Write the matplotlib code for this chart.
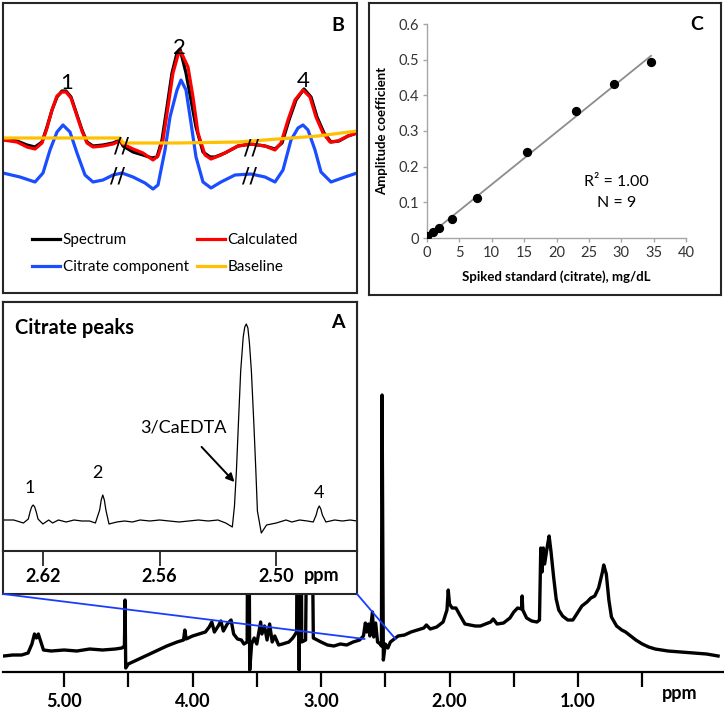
import numpy as np
import matplotlib
matplotlib.use("Agg")
import matplotlib.pyplot as plt
from matplotlib.patches import ConnectionPatch

plt.rcParams["font.family"] = ["Lato", "DejaVu Sans"]

# ==============================
# DATA
# ==============================
# A, full 1H spectrum (ppm, intensity)
main_ppm = [5.47, 5.40, 5.33, 5.28, 5.25, 5.23, 5.215, 5.20, 5.18, 5.16, 5.10, 5.00, 4.90, 4.80,
            4.70, 4.60, 4.55, 4.53, 4.525, 4.52, 4.50, 4.45, 4.40, 4.30, 4.20, 4.12, 4.07, 4.06,
            4.05, 4.00, 3.95, 3.90, 3.87, 3.85, 3.83, 3.80, 3.78, 3.76, 3.73, 3.70, 3.68, 3.65,
            3.62, 3.60, 3.575, 3.565, 3.555, 3.54, 3.52, 3.50, 3.47, 3.46, 3.44, 3.42, 3.40, 3.38,
            3.36, 3.33, 3.30, 3.25, 3.22, 3.19, 3.18, 3.17, 3.16, 3.15, 3.12, 3.10, 3.08, 3.06,
            3.00, 2.95, 2.90, 2.85, 2.80, 2.75, 2.70, 2.67, 2.655, 2.645, 2.63, 2.62, 2.60, 2.59,
            2.575, 2.56, 2.54, 2.53, 2.525, 2.515, 2.50, 2.48, 2.46, 2.43, 2.40, 2.35, 2.30, 2.25,
            2.20, 2.18, 2.15, 2.10, 2.05, 2.02, 2.01, 2.00, 1.98, 1.95, 1.92, 1.88, 1.84, 1.80,
            1.76, 1.72, 1.68, 1.66, 1.63, 1.58, 1.53, 1.50, 1.47, 1.44, 1.435, 1.43, 1.40, 1.36,
            1.32, 1.30, 1.29, 1.28, 1.27, 1.26, 1.24, 1.225, 1.21, 1.19, 1.17, 1.15, 1.12, 1.08,
            1.04, 1.02, 1.00, 0.97, 0.93, 0.90, 0.87, 0.84, 0.81, 0.80, 0.78, 0.76, 0.74, 0.70,
            0.66, 0.63, 0.60, 0.55, 0.50, 0.45, 0.40, 0.30, 0.20, 0.10, 0.00, -0.09]
main_int = [16, 17, 17, 19, 28, 38, 34, 38, 30, 22, 21, 22, 21, 23,
            22, 23, 24, 26, 72, 4, 8, 11, 14, 20, 26, 30, 32, 42,
            33, 36, 38, 40, 45, 50, 40, 46, 51, 41, 48, 52, 38, 33,
            32, 28, 30, 300, 2, 28, 34, 28, 50, 38, 46, 32, 48, 30,
            36, 27, 28, 30, 34, 40, 300, 2, 300, 30, 32, 300, 300, 34,
            30, 27, 26, 28, 27, 30, 32, 36, 49, 40, 48, 36, 60, 35,
            49, 30, 28, 26, 277, 12, 28, 24, 30, 33, 36, 37, 40, 42,
            44, 47, 43, 45, 50, 62, 82, 68, 64, 64, 57, 48, 47, 46,
            46, 48, 50, 53, 48, 49, 54, 60, 64, 63, 76, 62, 54, 51,
            50, 52, 124, 100, 124, 108, 125, 136, 120, 95, 73, 62, 56, 52,
            52, 56, 60, 66, 70, 74, 76, 84, 100, 107, 98, 72, 55, 46,
            42, 40, 37, 32, 28, 25, 23, 21, 20, 19, 18, 16]
main_ticks = [5.0, 4.5, 4.0, 3.5, 3.0, 2.5, 2.0, 1.5, 1.0, 0.5]
main_labels = ["5.00", "", "4.00", "", "3.00", "", "2.00", "", "1.00", ""]

# A, citrate region inset
ins_ppm = [2.6405, 2.635, 2.630, 2.6275, 2.6266, 2.6258, 2.6250, 2.6242, 2.6234, 2.6225, 2.620,
           2.617, 2.615, 2.612, 2.608, 2.604, 2.600, 2.596, 2.593, 2.5908, 2.5900, 2.5892,
           2.5884, 2.5876, 2.586, 2.582, 2.578, 2.574, 2.570, 2.565, 2.560, 2.555, 2.550, 2.545,
           2.540, 2.535, 2.530, 2.526, 2.5226, 2.5215, 2.5205, 2.5195, 2.5183, 2.5170, 2.5162,
           2.5154, 2.5146, 2.5138, 2.5128, 2.5115, 2.5105, 2.5097, 2.5077, 2.505, 2.500, 2.495,
           2.492, 2.488, 2.484, 2.481, 2.4795, 2.4787, 2.4779, 2.4771, 2.4763, 2.4745, 2.470,
           2.466, 2.462, 2.4585]
ins_int = [31, 31, 28, 32, 39, 44, 46, 44, 39, 32, 27,
           31, 28, 31, 29, 31, 30, 30, 28, 41, 51, 56,
           51, 41, 27, 29, 30, 29, 31, 30, 31, 30, 29, 30,
           31, 30, 31, 28, 24, 45, 80, 126, 180, 214, 224,
           227, 223, 208, 180, 126, 80, 40, 18, 26, 28, 31,
           29, 31, 30, 29, 36, 42, 45, 42, 36, 29, 31,
           30, 31, 30]
ins_ticks = [2.62, 2.56, 2.50]
ins_labels = ["2.62", "2.56", "2.50"]

# B, fitted region (shift index, intensity)
b_spec_x = [0, 14, 24, 32, 39, 44, 49, 54, 59, 63, 68, 73, 79, 84, 90, 100, 110, 117, 120, 130,
            140, 149, 154, 159, 164, 169, 174, 177, 183, 188, 193, 200, 207, 212, 222, 235, 248,
            262, 272, 279, 286, 293, 301, 308, 314, 321, 328, 336, 345, 354]
b_spec_y = [61, 59, 55, 53, 58, 73, 90, 103, 109, 109, 103, 88, 70, 58, 54, 55, 57, 60, 54, 48,
            45, 42, 43, 60, 93, 127, 147, 151, 127, 100, 73, 48, 43, 43, 47, 54, 56,
            54, 51, 57, 80, 100, 111, 103, 83, 67, 58, 59, 64, 67]
b_calc_x = [0, 14, 24, 32, 39, 44, 49, 54, 59, 63, 68, 73, 79, 84, 90, 100, 110, 117, 120, 130,
            140, 150, 155, 160, 165, 170, 175, 178, 185, 190, 195, 202, 208, 218, 235, 248, 262,
            272, 278, 285, 292, 300, 307, 313, 320, 327, 335, 345, 354]
b_calc_y = [60, 58, 53, 51, 57, 72, 90, 104, 108, 108, 102, 87, 69, 57, 53, 54, 56, 59, 56, 51,
            47, 40, 44, 60, 93, 127, 145, 148, 133, 103, 67, 45, 41, 45, 54, 56, 54,
            50, 57, 80, 100, 110, 103, 83, 67, 58, 59, 64, 67]
b_cit_x = [0, 17, 32, 40, 47, 54, 60, 67, 74, 82, 90, 100, 110, 119, 130, 142, 150, 155, 162,
           167, 174, 178, 183, 188, 193, 200, 208, 218, 232, 248, 262, 272, 280, 288, 295, 300,
           305, 312, 318, 328, 342, 354]
b_cit_y = [27, 23, 18, 27, 50, 68, 75, 68, 47, 25, 18, 20, 25, 27, 23, 17, 11, 15, 50,
           83, 110, 120, 110, 77, 43, 18, 12, 18, 25, 26, 23, 18, 30, 60, 72, 75,
           70, 50, 28, 18, 23, 27]
b_base_x = [0, 117, 120, 175, 235, 275, 315, 354]
b_base_y = [62, 62, 57, 57, 58, 61, 64, 69]
b_peaks = ["1", "2", "4"]
b_peak_x = [64, 176, 300]
b_peak_y = [117, 152, 119]

# C, calibration
conc = [0, 0.96, 1.92, 3.84, 7.69, 15.38, 23.07, 28.84, 34.6]
amp = [0.005, 0.017, 0.028, 0.054, 0.112, 0.240, 0.356, 0.433, 0.493]

# ==============================
# FIGURE
# ==============================
W, H = 724, 711
fig = plt.figure(figsize=(W / 100, H / 100), dpi=100)
BOX = "#262626"


def px_axes(x0, y0, x1, y1, **kw):
    return fig.add_axes([x0 / W, 1 - y1 / H, (x1 - x0) / W, (y1 - y0) / H], **kw)


# ---- A: full spectrum ----
ax = px_axes(3, 300, 724, 672, zorder=0)
ax.patch.set_visible(False)
ax.plot(main_ppm, main_int, color="black", lw=2.4, solid_joinstyle="round")
ax.set_xlim(5.475, -0.136)
ax.set_ylim(0, 372)
for s in ["top", "left", "right"]:
    ax.spines[s].set_visible(False)
ax.spines["bottom"].set_linewidth(1.6)
ax.set_xticks(main_ticks, labels=main_labels, fontweight="bold")
ax.tick_params(axis="x", length=11, width=1.6, labelsize=13, pad=4)
ax.set_yticks([])
fig.text(680 / W, 1 - 693 / H, "ppm", fontsize=13, fontweight="bold", ha="center", va="center")

# ---- A: inset ----
box = px_axes(3, 302, 357, 594, zorder=1)
box.set_xticks([])
box.set_yticks([])
for s in box.spines.values():
    s.set_linewidth(1.5)
    s.set_color(BOX)

ins = px_axes(3, 302, 357, 551, zorder=2)
ins.plot(ins_ppm, ins_int, color="black", lw=0.9, solid_joinstyle="round")
ins.set_xlim(2.6405, 2.4585)
ins.set_ylim(0, 249)
ins.set_yticks([])
ins.set_xticks(ins_ticks, labels=ins_labels, fontweight="bold")
ins.tick_params(axis="x", length=11, width=1.3, labelsize=13, pad=1, color=BOX)
for s in ins.spines.values():
    s.set_linewidth(1.5)
    s.set_color(BOX)
ins.text(2.6267, 63, "1", fontsize=13, ha="center", va="center")
ins.text(2.5918, 78, "2", fontsize=13, ha="center", va="center")
ins.text(2.4779, 58, "4", fontsize=13, ha="center", va="center")
ins.annotate("3/CaEDTA", xy=(2.5215, 69), xytext=(2.548, 124), fontsize=13,
             ha="center", va="center",
             arrowprops=dict(arrowstyle="-|>", color="black", lw=1.4, shrinkA=9, shrinkB=0,
                             mutation_scale=12))
ins.text(0.034, 0.896, "Citrate peaks", transform=ins.transAxes, fontsize=14.5,
         fontweight="bold", ha="left", va="center")
ins.text(0.946, 0.916, "A", transform=ins.transAxes, fontsize=14,
         fontweight="bold", ha="center", va="center")
fig.text(322 / W, 1 - 575 / H, "ppm", fontsize=13, fontweight="bold", ha="center", va="center",
         zorder=5)

for frac, ppm in [(0, 2.66), (1, 2.42)]:
    con = ConnectionPatch(xyA=(frac, 0), coordsA=box.transAxes, xyB=(ppm, 33),
                          coordsB=ax.transData, color="#1a3cff", lw=1.3, zorder=3)
    fig.add_artist(con)

# ---- B ----
axB = px_axes(3, 3, 357, 293)
lb, = axB.plot(b_spec_x, b_spec_y, color="black", lw=2.3, label="Spectrum", solid_joinstyle="round")
lr, = axB.plot(b_calc_x, b_calc_y, color="#ff0000", lw=2.3, label="Calculated", solid_joinstyle="round")
lc, = axB.plot(b_cit_x, b_cit_y, color="#1a4dff", lw=2.3, label="Citrate component", solid_joinstyle="round")
ly, = axB.plot(b_base_x, b_base_y, color="#ffc000", lw=2.3, label="Baseline")
axB.set_xlim(0, 354)
axB.set_ylim(-93, 197)
axB.set_xticks([])
axB.set_yticks([])
for s in axB.spines.values():
    s.set_linewidth(1.5)
    s.set_color(BOX)
for lab, x, y in zip(b_peaks, b_peak_x, b_peak_y):
    axB.text(x, y, lab, fontsize=16, ha="center", va="center")
for x, y in [(118, 54), (115, 23), (249, 52), (247, 23)]:
    axB.text(x, y, "//", fontsize=16, ha="center", va="center", family="DejaVu Sans")
axB.legend(handles=[lb, lc, lr, ly], ncol=2, loc="upper left", bbox_to_anchor=(0.082, 0.207),
           frameon=False, fontsize=11, handlelength=1.85, handletextpad=0.15,
           columnspacing=0.55, labelspacing=0.85, borderpad=0, borderaxespad=0)
axB.text(0.946, 0.924, "B", transform=axB.transAxes, fontsize=14,
         fontweight="bold", ha="center", va="center")

# ---- C ----
frameC = px_axes(369, 3, 721, 295)
frameC.set_xticks([])
frameC.set_yticks([])
for s in frameC.spines.values():
    s.set_linewidth(1.5)
    s.set_color(BOX)
frameC.text(0.932, 0.925, "C", transform=frameC.transAxes, fontsize=14,
            fontweight="bold", ha="center", va="center")

axC = px_axes(427, 24, 686, 238)
axC.patch.set_visible(False)
slope, icpt = np.polyfit(conc, amp, 1)
fit_x = np.array([0, max(conc)])
axC.plot(fit_x, slope * fit_x + icpt, color="#8c8c8c", lw=1.3, zorder=2)
axC.scatter(conc, amp, s=32, color="black", zorder=3)
axC.set_xlim(0, 40)
axC.set_ylim(0, 0.6)
axC.set_xticks(range(0, 41, 5))
axC.set_yticks([0, 0.1, 0.2, 0.3, 0.4, 0.5, 0.6], labels=["0", "0.1", "0.2", "0.3", "0.4", "0.5", "0.6"])
for s in ["top", "right"]:
    axC.spines[s].set_visible(False)
for s in ["left", "bottom"]:
    axC.spines[s].set_color("#a6a6a6")
    axC.spines[s].set_linewidth(1.0)
axC.tick_params(length=3, width=1, color="#a6a6a6", labelsize=10.5, labelcolor="#333333", pad=3)
axC.set_xlabel("Spiked standard (citrate), mg/dL", fontsize=9.5, fontweight="bold", labelpad=7)
axC.set_ylabel("Amplitude coefficient", fontsize=9.5, fontweight="bold", labelpad=7)
axC.text(29.3, 0.157, "R² = 1.00", fontsize=11.5, ha="center", va="center")
axC.text(29.3, 0.098, "N = 9", fontsize=11.5, ha="center", va="center")

fig.savefig("out.png", dpi=100)
